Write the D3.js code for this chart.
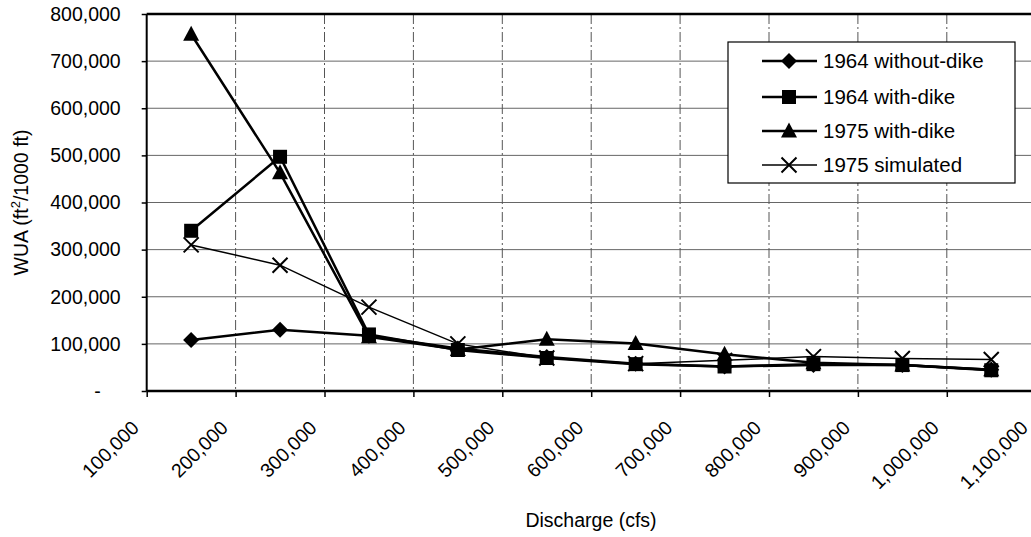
<!DOCTYPE html>
<html>
  <head>
    <meta charset="utf-8">
    <script src="https://unpkg.com/d3@7/dist/d3.min.js"></script>
    <style>
      body {
        margin: 0;
        background: #fff;
      }

      text {
        font-family: "Liberation Sans", Arial, sans-serif;
        fill: #000;
      }

      .grid-h {
        stroke: #666;
        stroke-width: 1;
      }

      .grid-v {
        stroke: #555;
        stroke-width: 1;
        stroke-dasharray: 10 3 2 3;
      }

      .series {
        fill: none;
        stroke: #000;
      }
    </style>
  </head>
  <body>
    <script>
      // discharge (cfs) at each sample point
      const discharge = [150000, 250000, 350000, 450000, 550000, 650000, 750000, 850000, 950000, 1050000];

      const wua1964NoDike = [108000, 130000, 117000, 90000, 72000, 58000, 52000, 55000, 55000, 45000];
      const wua1964Dike = [340000, 497000, 120000, 87000, 70000, 57000, 52000, 57000, 55000, 44000];
      const wua1975Dike = [757000, 463000, 115000, 88000, 110000, 101000, 78000, 60000, 55000, 45000];
      const wua1975Sim = [310000, 267000, 178000, 100000, 70000, 58000, 65000, 73000, 69000, 67000];

      const seriesNames = ['1964 without-dike', '1964 with-dike', '1975 with-dike', '1975 simulated'];
      const xTicks = [100000, 200000, 300000, 400000, 500000, 600000, 700000, 800000, 900000, 1000000, 1100000];
      const yTicks = [0, 100000, 200000, 300000, 400000, 500000, 600000, 700000, 800000];

      const width = 1031;
      const height = 537;
      const plotLeft = 146.7;
      const plotRight = 1035.7;
      const plotTop = 14;
      const plotBottom = 391;

      const series = [
        {name: seriesNames[0], values: wua1964NoDike, marker: 'diamond', lw: 2.5},
        {name: seriesNames[1], values: wua1964Dike, marker: 'square', lw: 2.5},
        {name: seriesNames[2], values: wua1975Dike, marker: 'triangle', lw: 2.5},
        {name: seriesNames[3], values: wua1975Sim, marker: 'cross', lw: 1.5}
      ];

      const x = d3.scaleLinear().domain([100000, 1100000]).range([plotLeft, plotRight]);
      const y = d3.scaleLinear().domain([0, 800000]).range([plotBottom, plotTop]);

      const svg = d3.select('body')
        .append('svg')
        .attr('width', width)
        .attr('height', height);

      // grid
      svg.append('g').selectAll('line').data(yTicks.filter(d => d > 0))
        .enter()
        .append('line')
        .classed('grid-h', true)
        .attr('x1', plotLeft).attr('x2', plotRight)
        .attr('y1', d => y(d)).attr('y2', d => y(d));

      svg.append('g').selectAll('line').data(xTicks.slice(1))
        .enter()
        .append('line')
        .classed('grid-v', true)
        .attr('x1', d => x(d)).attr('x2', d => x(d))
        .attr('y1', plotTop).attr('y2', plotBottom);

      // axes
      const fmt = d => d === 0 ? '-' : d3.format(',')(d);

      const yAxis = d3.axisLeft(y).tickValues(yTicks).tickSize(5).tickPadding(21).tickFormat(fmt);
      const gy = svg.append('g').attr('transform', `translate(${plotLeft},0)`).call(yAxis);
      gy.select('.domain').remove();
      gy.selectAll('.tick line').attr('stroke', '#000').attr('stroke-width', 1.5);
      gy.selectAll('.tick text')
        .style('font-size', '19.5px')
        .attr('dx', d => d === 0 ? -20 : 0);

      const xAxis = d3.axisBottom(x).tickValues(xTicks).tickSize(6).tickFormat(d3.format(','));
      const gx = svg.append('g').attr('transform', `translate(0,${plotBottom})`).call(xAxis);
      gx.select('.domain').remove();
      gx.selectAll('.tick line').attr('stroke', '#000').attr('stroke-width', 1.5);
      gx.selectAll('.tick text')
        .style('font-size', '19.5px')
        .attr('text-anchor', 'end')
        .attr('dy', null)
        .attr('y', null)
        .attr('transform', 'translate(-7,38) rotate(-45)');

      // frame
      svg.append('line')
        .attr('x1', plotLeft).attr('x2', plotRight).attr('y1', plotTop).attr('y2', plotTop)
        .attr('stroke', '#000').attr('stroke-width', 2.5);
      svg.append('line')
        .attr('x1', plotLeft).attr('x2', plotRight).attr('y1', plotBottom).attr('y2', plotBottom)
        .attr('stroke', '#000').attr('stroke-width', 2.5);
      svg.append('line')
        .attr('x1', plotLeft).attr('x2', plotLeft).attr('y1', plotTop).attr('y2', plotBottom)
        .attr('stroke', '#000').attr('stroke-width', 2);

      // markers
      const drawMarker = (g, type) => {
        if (type === 'diamond') {
          g.append('path').attr('d', 'M0,-8L8,0L0,8L-8,0Z').attr('fill', '#000');
        } else if (type === 'square') {
          g.append('rect').attr('x', -7).attr('y', -7).attr('width', 14).attr('height', 14).attr('fill', '#000');
        } else if (type === 'triangle') {
          g.append('path').attr('d', 'M0,-8.5L8,6.5L-8,6.5Z').attr('fill', '#000');
        } else {
          g.append('path').attr('d', 'M-7.5,-7.5L7.5,7.5M-7.5,7.5L7.5,-7.5')
            .attr('stroke', '#000').attr('stroke-width', 2).attr('fill', 'none');
        }
      };

      const line = d3.line()
        .x((d, i) => x(discharge[i]))
        .y(d => y(d));

      series.forEach(s => {
        svg.append('path')
          .datum(s.values)
          .classed('series', true)
          .attr('stroke-width', s.lw)
          .attr('d', line);
        s.values.forEach((v, i) => {
          const g = svg.append('g').attr('transform', `translate(${x(discharge[i])},${y(v)})`);
          drawMarker(g, s.marker);
        });
      });

      // legend
      const legend = svg.append('g');
      legend.append('rect')
        .attr('x', 728).attr('y', 42)
        .attr('width', 287).attr('height', 141)
        .attr('fill', '#fff').attr('stroke', '#000').attr('stroke-width', 1.2);

      const legendY = [61, 97, 131, 165];
      series.forEach((s, i) => {
        const g = legend.append('g').attr('transform', `translate(0,${legendY[i]})`);
        g.append('line')
          .attr('x1', 762).attr('x2', 817)
          .attr('stroke', '#000').attr('stroke-width', s.lw);
        drawMarker(g.append('g').attr('transform', 'translate(789,0)'), s.marker);
        g.append('text')
          .attr('x', 823).attr('dy', '0.35em')
          .style('font-size', '20.5px')
          .text(s.name);
      });

      // axis titles
      svg.append('text')
        .attr('x', 591).attr('y', 527)
        .attr('text-anchor', 'middle')
        .style('font-size', '19.5px')
        .text('Discharge (cfs)');

      const yt = svg.append('text')
        .attr('transform', `translate(28,${(plotTop + plotBottom) / 2}) rotate(-90)`)
        .attr('text-anchor', 'middle')
        .style('font-size', '19.5px');
      yt.append('tspan').text('WUA (ft');
      yt.append('tspan').attr('dy', -8).style('font-size', '13px').text('2');
      yt.append('tspan').attr('dy', 8).text('/1000 ft)');
    </script>
  </body>
</html>
